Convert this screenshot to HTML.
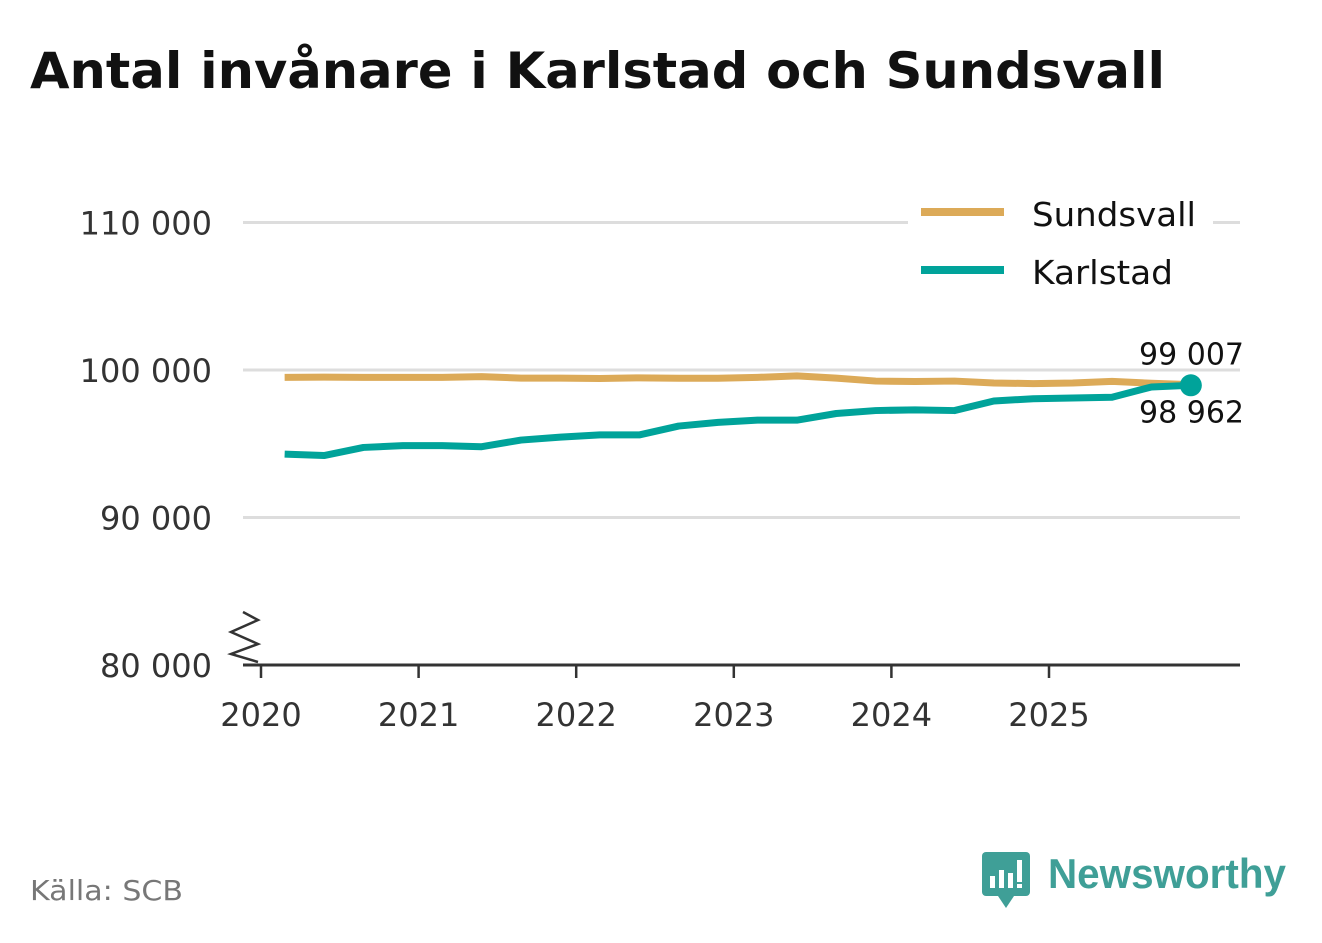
<!DOCTYPE html>
<html><head><meta charset="utf-8"><style>
body{margin:0;background:#fff;width:1322px;height:939px;overflow:hidden;font-family:"DejaVu Sans",sans-serif}
</style></head><body>
<svg width="1322" height="939" xmlns="http://www.w3.org/2000/svg" font-family="DejaVu Sans, Liberation Sans, sans-serif">
<text x="30" y="88" font-size="50" font-weight="bold" fill="#111" textLength="1135" lengthAdjust="spacingAndGlyphs">Antal invånare i Karlstad och Sundsvall</text>
<g id="grid"></g><g id="axes"></g><g id="lines"></g>
<g>
<rect x="908" y="192" width="305" height="110" fill="#fff"/>
<line x1="921" y1="212" x2="1004" y2="212" stroke="#dcaa58" stroke-width="8"/>
<text x="1032" y="226" font-size="33" fill="#111" textLength="164" lengthAdjust="spacingAndGlyphs">Sundsvall</text>
<line x1="921" y1="270" x2="1004" y2="270" stroke="#00a39a" stroke-width="8"/>
<text x="1032" y="284" font-size="33" fill="#111" textLength="141" lengthAdjust="spacingAndGlyphs">Karlstad</text>
</g>
<text x="30" y="900" font-size="28" fill="#777" textLength="153" lengthAdjust="spacingAndGlyphs">Källa: SCB</text>
<g>
<rect x="982" y="852" width="48" height="44" rx="4" fill="#3f9f97"/>
<polygon points="998,896 1014,896 1006,908" fill="#3f9f97"/>
<rect x="990" y="876" width="5" height="12" fill="#fff"/><rect x="999" y="870" width="5" height="18" fill="#fff"/><rect x="1008" y="873" width="5" height="15" fill="#fff"/><rect x="1017" y="860" width="5" height="22" fill="#fff"/><rect x="1017" y="884" width="5" height="4" fill="#fff"/>
<text x="1048" y="888" font-size="42" font-weight="bold" fill="#3f9f97" font-family="Liberation Sans, sans-serif" textLength="238" lengthAdjust="spacingAndGlyphs">Newsworthy</text>
</g>
</svg>
<script>
const yTicks=[80000,90000,100000,110000];
const yTickLabels=["80 000","90 000","100 000","110 000"];
const xYears=[2020,2021,2022,2023,2024,2025];
const startDate=2020.15, step=0.25;
const sundsvall=[99500,99520,99500,99500,99500,99550,99450,99450,99420,99470,99440,99440,99500,99600,99450,99250,99220,99250,99120,99080,99120,99230,99100,99007];
const karlstad=[94300,94200,94750,94870,94870,94800,95250,95450,95600,95600,96200,96450,96600,96600,97050,97250,97300,97250,97900,98050,98100,98150,98850,98962];
const NS="http://www.w3.org/2000/svg";
const X=d=>261+(d-2020)*157.6;
const Y=v=>665-(v-80000)*0.01475;
function mk(t,a,p){const e=document.createElementNS(NS,t);for(const k in a)e.setAttribute(k,a[k]);p.appendChild(e);return e;}
const grid=document.getElementById('grid'),axes=document.getElementById('axes'),lines=document.getElementById('lines');
yTicks.forEach((v,i)=>{
 if(i>0){const g=mk('line',{x1:243,x2:1240,y1:Y(v),y2:Y(v),stroke:'#ddd','stroke-width':3},grid);
 
 }
 const t=mk('text',{x:212,y:Y(v)+12,'font-size':32,fill:'#333','text-anchor':'end'},axes);t.textContent=yTickLabels[i];
 
 
});
const ax=mk('line',{x1:243,x2:1240,y1:665,y2:665,stroke:'#333','stroke-width':3},axes);


const br=mk('polyline',{points:'243,612 258,620 231,632 258,644 231,654 258,662',fill:'none',stroke:'#333','stroke-width':2.5},axes);


xYears.forEach(y=>{
 mk('line',{x1:X(y),x2:X(y),y1:665,y2:678,stroke:'#333','stroke-width':2.5},axes);
 const t=mk('text',{x:X(y),y:726,'font-size':32,fill:'#333','text-anchor':'middle'},axes);t.textContent=y;
 
 
});
function series(arr,col,name){
 const pts=arr.map((v,i)=>X(startDate+i*step)+','+Y(v)).join(' ');
 const p=mk('polyline',{points:pts,fill:'none',stroke:col,'stroke-width':7,'stroke-linejoin':'round'},lines);
 
 
}
series(sundsvall,'#dcaa58','sundsvall');
series(karlstad,'#00a39a','karlstad');
const n=karlstad.length-1,ex=X(startDate+n*step);
const dot=mk('circle',{cx:ex,cy:Y(karlstad[n]),r:11,fill:'#00a39a'},lines);


const fmt=v=>String(v).replace(/(\d+)(\d{3})$/,'$1 $2');
const l1=mk('text',{x:1244,y:Y(sundsvall[n])-20,'font-size':30,fill:'#111','text-anchor':'end'},lines);l1.textContent=fmt(sundsvall[n]);


const l2=mk('text',{x:1244,y:Y(karlstad[n])+37,'font-size':30,fill:'#111','text-anchor':'end'},lines);l2.textContent=fmt(karlstad[n]);


</script>
</body></html>
